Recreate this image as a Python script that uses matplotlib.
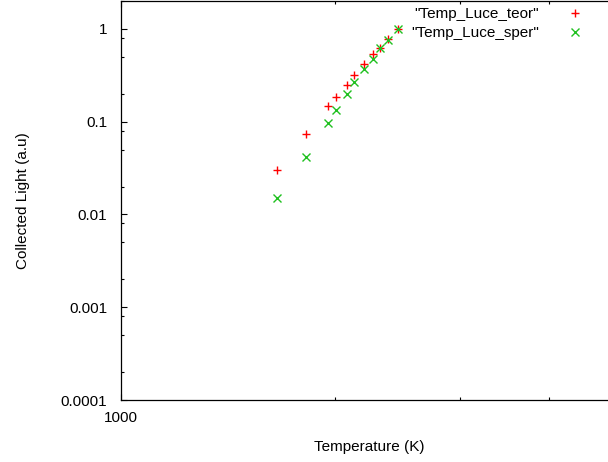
import numpy as np
from matplotlib import pyplot as plt
from matplotlib.ticker import FixedLocator, LogLocator, NullFormatter, FixedFormatter

# Dati
temperature = [1659, 1822, 1956, 2008, 2081, 2129, 2197, 2264, 2316, 2374, 2453]
luce_teor = [0.0299, 0.0745, 0.146, 0.185, 0.249, 0.316, 0.415, 0.531, 0.626, 0.782, 1.0]
luce_sper = [0.0152, 0.0419, 0.0968, 0.1345, 0.1995, 0.271, 0.373, 0.477, 0.620, 0.768, 1.0]

x_ticks = [1000]
x_minor = [2000, 3000, 4000]
y_ticks = [0.0001, 0.001, 0.01, 0.1, 1]
y_labels = ["0.0001", "0.001", "0.01", "0.1", "1"]

plt.rcParams['font.family'] = ['Liberation Sans', 'DejaVu Sans']
plt.rcParams['font.size'] = 11

fig = plt.figure(figsize=(6.08, 4.62), dpi=100)
W, H = 608, 462
# l'area del grafico esce a destra dall'immagine (come nell'originale)
ax = fig.add_axes([121 / W, 1 - 400 / H, (618 - 121) / W, 399 / H])

ax.plot(temperature, luce_teor, linestyle='none', marker='+', color='#ff0000',
        markersize=6, markeredgewidth=1, label='"Temp_Luce_teor"')
ax.plot(temperature, luce_sper, linestyle='none', marker='x', color='#20c020',
        markersize=5.5, markeredgewidth=1, label='"Temp_Luce_sper"')

ax.set_xscale('log')
ax.set_yscale('log')
ax.set_xlim(1000, 5000)
ax.set_ylim(0.0001, 2)

ax.xaxis.set_major_locator(FixedLocator(x_ticks))
ax.xaxis.set_major_formatter(FixedFormatter(["1000"]))
ax.xaxis.set_minor_locator(FixedLocator(x_minor))
ax.xaxis.set_minor_formatter(NullFormatter())
ax.yaxis.set_major_locator(FixedLocator(y_ticks))
ax.yaxis.set_major_formatter(FixedFormatter(y_labels))
ax.yaxis.set_minor_locator(LogLocator(base=10, subs=(2, 5, 8)))
ax.yaxis.set_minor_formatter(NullFormatter())

ax.tick_params(which='both', direction='in', top=True, right=True, width=0.8)
ax.tick_params(which='major', length=4)
ax.tick_params(which='minor', length=2)
ax.tick_params(axis='y', pad=10)
ax.tick_params(axis='x', pad=8)
for s in ax.spines.values():
    s.set_linewidth(0.9)

ax.set_xlabel('Temperature (K)', labelpad=11)
ax.set_ylabel('Collected Light (a.u)', labelpad=22)

ax.legend(loc='upper right', bbox_to_anchor=(586 / W, 1 - 7 / H), bbox_transform=fig.transFigure,
          frameon=False, markerfirst=False, handlelength=1.5, handletextpad=1.6,
          borderpad=0, borderaxespad=0, labelspacing=0.35)

plt.savefig('out.png', dpi=100)
